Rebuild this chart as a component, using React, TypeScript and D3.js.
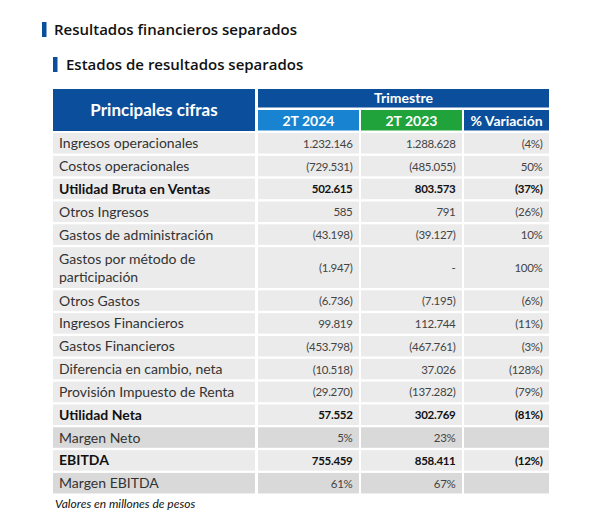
import React from "react";
import * as d3 from "d3";

const rowLabels = [
  "Ingresos operacionales",
  "Costos operacionales",
  "Utilidad Bruta en Ventas",
  "Otros Ingresos",
  "Gastos de administración",
  "Gastos por método de|participación",
  "Otros Gastos",
  "Ingresos Financieros",
  "Gastos Financieros",
  "Diferencia en cambio, neta",
  "Provisión Impuesto de Renta",
  "Utilidad Neta",
  "Margen Neto",
  "EBITDA",
  "Margen EBITDA",
];
const values2024: (number | null)[] = [1232146, -729531, 502615, 585, -43198, -1947, -6736, 99819, -453798, -10518, -29270, 57552, 5, 755459, 61];
const values2023: (number | null)[] = [1288628, -485055, 803573, 791, -39127, null, -7195, 112744, -467761, 37026, -137282, 302769, 23, 858411, 67];
const variation: (number | null)[] = [-4, 50, -37, -26, 10, 100, -6, -11, -3, -128, -79, -81, null, -12, null];
const boldRows = [2, 11, 13];
const percentRows = [12, 14];
const rowUnits = [1, 1, 1, 1, 1, 1.89, 1, 1, 1, 1, 1, 1, 1, 1, 1];
const columnHeaders = ["2T 2024", "2T 2023", "% Variación"];

const locale = d3.formatLocale({ decimal: ",", thousands: ".", grouping: [3], currency: ["$", ""] });
const fmtNum = locale.format(",.0f");
function fmtValue(v: number | null, pct: boolean): string {
  if (v === null) return "-";
  if (pct) return v < 0 ? `(${Math.abs(v)}%)` : `${v}%`;
  return v < 0 ? `(${fmtNum(Math.abs(v))})` : fmtNum(v);
}
function fmtVar(v: number | null): string {
  if (v === null) return "";
  return v < 0 ? `(${Math.abs(v)}%)` : `${v}%`;
}

const DARK = "#0b4f9c";
const LIGHT = "#1883d0";
const GREEN = "#20a33a";
const GREY = "#ebebeb";
const GREY2 = "#d9d9d9";

export default function App() {
  const W = 602, H = 521;
  const colEdges = [53, 255, 258, 359, 361, 462, 464, 549];
  const top = 133;
  const pitch = 22.83;
  const gap = 2.3;
  const cum = d3.cumsum(rowUnits);
  const yScale = d3.scaleLinear().domain([0, cum[cum.length - 1]]).range([top, top + pitch * cum[cum.length - 1]]);
  const rows = rowLabels.map((lab, i) => {
    const y0 = yScale(i === 0 ? 0 : cum[i - 1]);
    const y1 = yScale(cum[i]) - gap;
    return { lab, i, y0, y1 };
  });
  const cols = [
    { x0: colEdges[2], x1: colEdges[3], fill: LIGHT },
    { x0: colEdges[4], x1: colEdges[5], fill: GREEN },
    { x0: colEdges[6], x1: colEdges[7], fill: DARK },
  ];
  const bodyFont = "Lato, 'Open Sans', sans-serif";
  return (
    <svg width={W} height={H} style={{ position: "absolute", left: 0, top: 0, background: "#fff" }}>
      <rect x={42} y={22} width={4.5} height={15} fill={DARK} />
      <text x={54} y={35} fontFamily="'Open Sans', sans-serif" fontWeight={600} fontSize={15} fill="#111">Resultados financieros separados</text>
      <rect x={53} y={57} width={4.5} height={15} fill={DARK} />
      <text x={66} y={70} fontFamily="'Open Sans', sans-serif" fontWeight={600} fontSize={15} fill="#111">Estados de resultados separados</text>

      {/* header */}
      <rect x={colEdges[0]} y={89} width={colEdges[1] - colEdges[0]} height={42} fill={DARK} />
      <text x={(colEdges[0] + colEdges[1]) / 2} y={116} textAnchor="middle" fontFamily={bodyFont} fontWeight={700} fontSize={17} fill="#fff">Principales cifras</text>
      <rect x={colEdges[2]} y={89} width={colEdges[7] - colEdges[2]} height={18.5} fill={DARK} />
      <text x={(colEdges[2] + colEdges[7]) / 2} y={103} textAnchor="middle" fontFamily={bodyFont} fontWeight={700} fontSize={14} fill="#fff">Trimestre</text>
      {cols.map((c, k) => (
        <g key={k}>
          <rect x={c.x0} y={110} width={c.x1 - c.x0} height={20.5} fill={c.fill} />
          <text x={(c.x0 + c.x1) / 2} y={125.5} textAnchor="middle" fontFamily={bodyFont} fontWeight={700} fontSize={14} fill="#fff">{columnHeaders[k]}</text>
        </g>
      ))}

      {rows.map(r => {
        const bold = boldRows.includes(r.i);
        const pct = percentRows.includes(r.i);
        const fill = pct ? GREY2 : GREY;
        const lines = r.lab.split("|");
        const mid = (r.y0 + r.y1) / 2;
        const numY = mid + 4.5;
        const vals = [fmtValue(values2024[r.i], pct), fmtValue(values2023[r.i], pct), fmtVar(variation[r.i])];
        return (
          <g key={r.i}>
            <rect x={colEdges[0]} y={r.y0} width={colEdges[1] - colEdges[0]} height={r.y1 - r.y0} fill={fill} />
            {cols.map((c, k) => (
              <rect key={k} x={c.x0} y={r.y0} width={c.x1 - c.x0} height={r.y1 - r.y0} fill={fill} />
            ))}
            {lines.map((ln, j) => (
              <text key={j} x={59} y={mid + 5 + (j - (lines.length - 1) / 2) * 18} fontFamily={bodyFont} fontWeight={bold ? 700 : 400} fontSize={14} fill={bold ? "#111" : "#333"}>{ln}</text>
            ))}
            {vals.map((v, k) => (
              <text key={k} x={cols[k].x1 - 6.5} y={numY} textAnchor="end" fontFamily={bodyFont} fontWeight={bold ? 700 : 400} fontSize={11.5} letterSpacing={-0.3} fill={bold ? "#111" : "#444"}>{v}</text>
            ))}
          </g>
        );
      })}
      <text x={55} y={508} fontFamily={bodyFont} fontStyle="italic" fontSize={12} fill="#111">Valores en millones de pesos</text>
    </svg>
  );
}
